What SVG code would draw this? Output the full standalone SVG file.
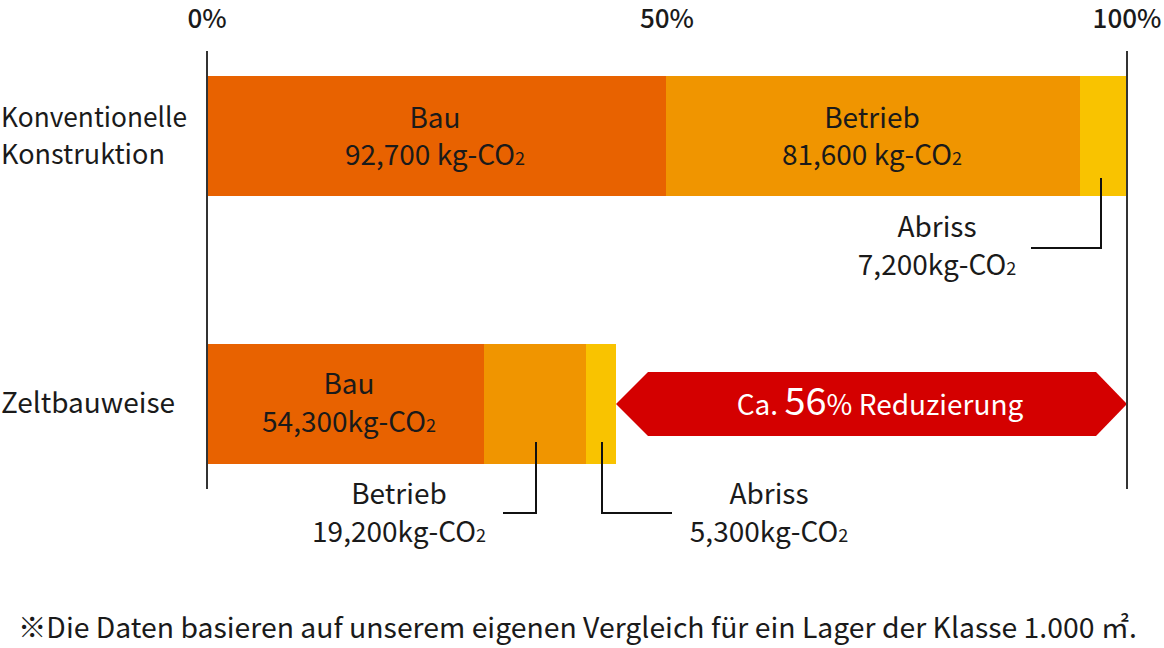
<svg xmlns="http://www.w3.org/2000/svg" width="1164" height="648" viewBox="0 0 1164 648">
<style>
text{font-family:"Noto Sans CJK JP","Noto Sans",sans-serif;font-size:28px;fill:#1a1a1a}
.c{text-anchor:middle}
.axl{font-size:26px;font-weight:500}
.lbl{font-size:27px}
.sub{font-size:18px}
.ax{stroke:#333;stroke-width:2;fill:none}
.ld{stroke:#111;stroke-width:2;fill:none}
.bau{fill:#E86200}
.bet{fill:#F09500}
.abr{fill:#F9C300}
</style>
<rect width="1164" height="648" fill="#fff"/>
<g id="axis">
<text class="c axl" x="207" y="28">0%</text>
<text class="c axl" x="667" y="28">50%</text>
<text class="c axl" x="1127" y="28">100%</text>
</g>
<g id="row1">
<text class="lbl" x="1" y="127" textLength="186" lengthAdjust="spacingAndGlyphs">Konventionelle</text>
<text class="lbl" x="1" y="164">Konstruktion</text>
<rect class="bau" x="206" y="76" width="460" height="120"/>
<rect class="bet" x="666" y="76" width="414" height="120"/>
<rect class="abr" x="1080" y="76" width="47" height="120"/>
<text class="c" x="435" y="128">Bau</text>
<text class="c" x="435" y="165">92,700 kg-CO<tspan class="sub">2</tspan></text>
<text class="c" x="872" y="128">Betrieb</text>
<text class="c" x="872" y="165">81,600 kg-CO<tspan class="sub">2</tspan></text>
<text class="c" x="937" y="237">Abriss</text>
<text class="c" x="937" y="275">7,200kg-CO<tspan class="sub">2</tspan></text>
</g>
<g id="row2">
<text x="1" y="413">Zeltbauweise</text>
<rect class="bau" x="206" y="344" width="278" height="120"/>
<rect class="bet" x="484" y="344" width="102" height="120"/>
<rect class="abr" x="586" y="344" width="30" height="120"/>
<text class="c" x="349" y="394">Bau</text>
<text class="c" x="349" y="432">54,300kg-CO<tspan class="sub">2</tspan></text>
<text class="c" x="399" y="504">Betrieb</text>
<text class="c" x="399" y="542">19,200kg-CO<tspan class="sub">2</tspan></text>
<text class="c" x="769" y="504">Abriss</text>
<text class="c" x="769" y="542">5,300kg-CO<tspan class="sub">2</tspan></text>
</g>
<g id="reduction">
<polygon points="616,404 648,372 1096,372 1127,404 1096,436 648,436" fill="#D40000"/>
<text class="c" x="880" y="415" style="fill:#fff">Ca. <tspan style="font-size:38px;fill:#fff">56</tspan>% Reduzierung</text>
</g>
<g id="connectors">
<line class="ax" x1="207" y1="51" x2="207" y2="489"/>
<line class="ax" x1="1127" y1="51" x2="1127" y2="489"/>
<polyline class="ld" points="1101,178 1101,248 1031,248"/>
<polyline class="ld" points="536,442 536,513 503,513"/>
<polyline class="ld" points="602,442 602,513 672,513"/>
</g>
<g id="note">
<text x="18" y="638" textLength="1119" lengthAdjust="spacingAndGlyphs">※Die Daten basieren auf unserem eigenen Vergleich für ein Lager der Klasse 1.000 ㎡.</text>
</g>
</svg>
